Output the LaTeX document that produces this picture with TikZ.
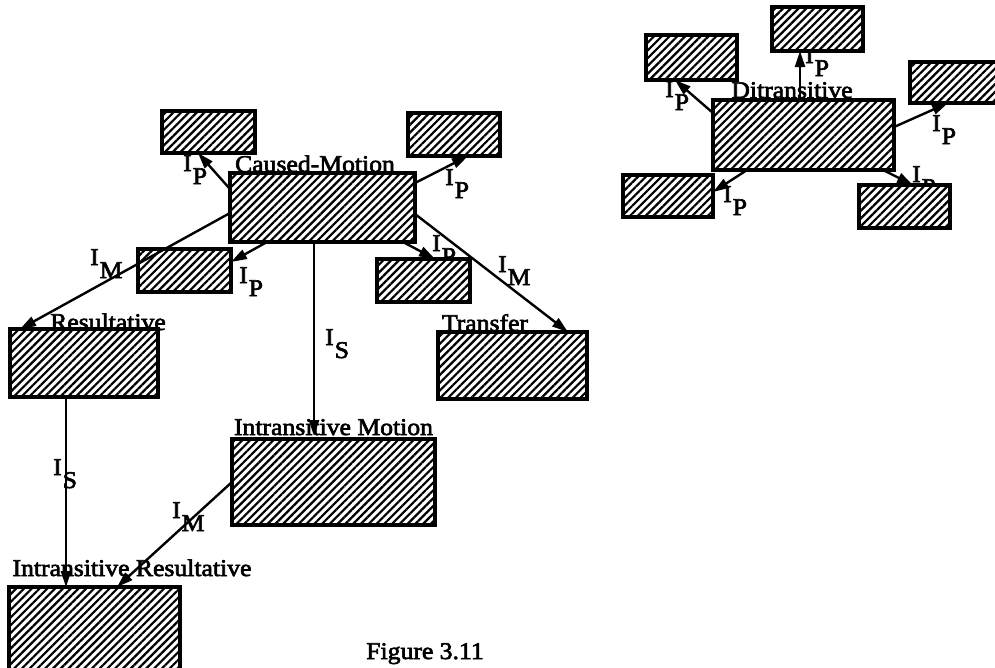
\documentclass[tikz,border=0pt]{standalone}
\usepackage{fontspec}
\setmainfont[FakeStretch=1.07,FakeBold=2.6]{Liberation Serif}
\usetikzlibrary{arrows.meta,patterns.meta}
\newcommand{\ilab}[1]{I\kern1pt\raisebox{-13pt}{#1}}
\tikzset{
  hbox/.style={rectangle, inner sep=0pt, outer sep=0pt, line width=3.2pt, draw=black,
    preaction={fill=white}, pattern={Lines[angle=45,distance=5.5pt,line width=2.2pt]}},
  conn/.style={line width=2.4pt, -{Triangle[length=16pt,width=10pt]}},
  title/.style={anchor=base, inner sep=0pt, font=\fontsize{24pt}{26pt}\selectfont},
  ilabel/.style={anchor=base west, inner sep=0pt, font=\fontsize{24pt}{26pt}\selectfont}
}
\begin{document}
\begin{tikzpicture}[x=1pt,y=-1pt]
\clip (0,0) rectangle (995,667);
\fill[white] (0,0) rectangle (995,667);
% titles
\node[title] (tcm) at (315,172) {Caused-Motion};
\node[title] (tres) at (108,330) {Resultative};
\node[title] (ttra) at (485,331) {Transfer};
\node[title] (tim) at (333.5,435) {Intransitive Motion};
\node[title] (tir) at (132,576) {Intransitive Resultative};
\node[title] (tdi) at (792,98) {Ditransitive};
\node[title] (tfig) at (425,659) {Figure 3.11};
% connector labels
\node[ilabel] (l1) at (183,171) {\ilab{P}};
\node[ilabel] (l2) at (445,185) {\ilab{P}};
\node[ilabel] (l3) at (90,265) {\ilab{M}};
\node[ilabel] (l4) at (239,283) {\ilab{P}};
\node[ilabel] (l5) at (325,345) {\ilab{S}};
\node[ilabel] (l6) at (432,251) {\ilab{P}};
\node[ilabel] (l7) at (498,272) {\ilab{M}};
\node[ilabel] (l8) at (53,475) {\ilab{S}};
\node[ilabel] (l9) at (172,518) {\ilab{M}};
\node[ilabel] (l10) at (665,97) {\ilab{P}};
\node[ilabel] (l11) at (805,63) {\ilab{P}};
\node[ilabel] (l12) at (932,131) {\ilab{P}};
\node[ilabel] (l13) at (723,202) {\ilab{P}};
\node[ilabel] (l14) at (912,182) {\ilab{P}};
% boxes
\node[hbox, minimum width=185pt, minimum height=69pt] (cm) at (322.5,207.5) {};
\node[hbox, minimum width=93pt, minimum height=42pt] (cmtl) at (208.5,132) {};
\node[hbox, minimum width=92pt, minimum height=43pt] (cmtr) at (454,134.5) {};
\node[hbox, minimum width=93pt, minimum height=43pt] (cml) at (184.5,270.5) {};
\node[hbox, minimum width=93pt, minimum height=43pt] (cmr) at (423.5,280.5) {};
\node[hbox, minimum width=148pt, minimum height=68pt] (res) at (84,363) {};
\node[hbox, minimum width=149pt, minimum height=67pt] (tra) at (512.5,365.5) {};
\node[hbox, minimum width=203pt, minimum height=86pt] (im) at (333.5,482) {};
\node[hbox, minimum width=171pt, minimum height=93pt] (ir) at (94.5,633.5) {};
\node[hbox, minimum width=181pt, minimum height=70pt] (di) at (803.5,135) {};
\node[hbox, minimum width=91pt, minimum height=45pt] (ditl) at (691.5,57.5) {};
\node[hbox, minimum width=91pt, minimum height=44pt] (dit) at (817.5,29) {};
\node[hbox, minimum width=95pt, minimum height=41pt] (dir) at (957.5,82.5) {};
\node[hbox, minimum width=90pt, minimum height=42pt] (dibl) at (668,196) {};
\node[hbox, minimum width=91pt, minimum height=43pt] (dibr) at (904.5,206.5) {};
% connectors
\draw[conn] ([yshift=-16pt]cm.north west) -- ([xshift=36pt]cmtl.south west);
\draw[conn] ([yshift=-10pt]cm.north east) -- ([xshift=60pt]cmtr.south west);
\draw[conn] ([yshift=-40pt]cm.north west) -- ([xshift=10pt]res.north west);
\draw[conn] ([xshift=37pt]cm.south west) -- ([yshift=-13pt]cml.north east);
\draw[conn] ([xshift=84pt]cm.south west) -- ([xshift=82pt,yshift=3pt]im.north west);
\draw[conn] ([xshift=-12pt]cm.south east) -- ([xshift=58pt]cmr.north west);
\draw[conn] ([yshift=-41pt]cm.north east) -- ([xshift=-19pt]tra.north east);
\draw[conn] ([xshift=56pt]res.south west) -- ([xshift=57pt]ir.north west);
\draw[conn] (im.west) -- ([xshift=108pt]ir.north west);
\draw[conn] ([yshift=-13pt]di.north west) -- ([xshift=29pt]ditl.south west);
\draw[conn] ([xshift=87pt]di.north west) -- ([xshift=28pt]dit.south west);
\draw[conn] ([yshift=-27pt]di.north east) -- ([xshift=38pt]dir.south west);
\draw[conn] ([xshift=34pt]di.south west) -- ([yshift=-17pt]dibl.north east);
\draw[conn] ([xshift=-11pt]di.south east) -- ([xshift=54pt]dibr.north west);
\end{tikzpicture}
\end{document}
